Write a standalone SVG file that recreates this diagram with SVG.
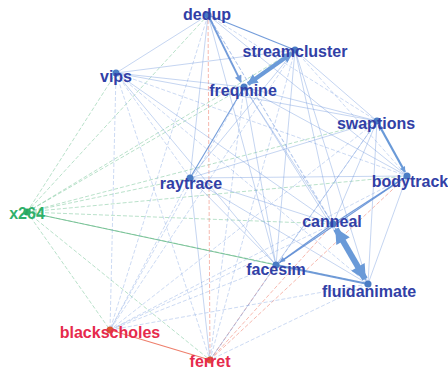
<svg xmlns="http://www.w3.org/2000/svg" width="448" height="370" viewBox="0 0 448 370">
<defs>
<style>
.e{fill:none;stroke:#6f96dc;stroke-width:0.8;opacity:0.5}
.d{fill:none;stroke:#7fa2e2;stroke-width:0.8;stroke-dasharray:4 2;opacity:0.5}
.m{fill:none;stroke:#5b8bd4;stroke-width:1.6;opacity:0.85}
.g{fill:none;stroke:#6cc090;stroke-width:0.8;stroke-dasharray:4 2;opacity:0.6}
.gs{fill:none;stroke:#55b07a;stroke-width:1;opacity:0.75}
.r{fill:none;stroke:#f08a78;stroke-width:0.8;stroke-dasharray:4 2;opacity:0.75}
.rs{fill:none;stroke:#ee7f6c;stroke-width:1.1}
.t{fill:none;stroke:#6a9ad8}
.lb{font-family:"Liberation Sans",Arial,sans-serif;font-weight:bold;font-size:16px;text-anchor:middle;fill:#3140a6}
.lg{fill:#2fb06a}
.lr{fill:#e62a4c}
.nb{fill:#4a7cc4}
.ng{fill:#2aa45e}
.nr{fill:#d9562e}
</style>
<marker id="ah" viewBox="0 0 10 10" refX="9" refY="5" markerWidth="3.2" markerHeight="2.6" orient="auto-start-reverse" markerUnits="strokeWidth">
<path d="M0,0 L10,5 L0,10 z" fill="#6a9ad8"/>
</marker>
<marker id="am" viewBox="0 0 10 10" refX="9" refY="5" markerWidth="5" markerHeight="4" orient="auto-start-reverse" markerUnits="strokeWidth">
<path d="M0,0 L10,5 L0,10 z" fill="#5b8bd4"/>
</marker>
</defs>
<rect width="448" height="370" fill="#ffffff"/>
<g id="connectors">
<line class="g" x1="27" y1="212" x2="208" y2="15"/>
<line class="g" x1="27" y1="212" x2="116" y2="73"/>
<line class="g" x1="27" y1="212" x2="295" y2="50"/>
<line class="g" x1="27" y1="212" x2="244" y2="87"/>
<line class="g" x1="27" y1="212" x2="377" y2="121"/>
<line class="g" x1="27" y1="212" x2="407" y2="176"/>
<line class="g" x1="27" y1="212" x2="190" y2="178"/>
<line class="g" x1="27" y1="212" x2="333" y2="224"/>
<line class="gs" x1="27" y1="212" x2="276" y2="265"/>
<line class="g" x1="27" y1="212" x2="368" y2="284"/>
<line class="g" x1="27" y1="212" x2="110" y2="330"/>
<line class="g" x1="27" y1="212" x2="210" y2="360"/>
<line class="r" x1="210" y1="360" x2="208" y2="15"/>
<line class="r" x1="210" y1="360" x2="276" y2="265"/>
<line class="r" x1="210" y1="360" x2="333" y2="224"/>
<line class="r" x1="210" y1="360" x2="407" y2="176"/>
<line class="rs" x1="110" y1="330" x2="210" y2="360"/>
<line class="e" x1="208" y1="15" x2="116" y2="73"/>
<line class="d" x1="208" y1="15" x2="377" y2="121"/>
<line class="e" x1="208" y1="15" x2="407" y2="176"/>
<line class="e" x1="208" y1="15" x2="190" y2="178"/>
<line class="d" x1="208" y1="15" x2="333" y2="224"/>
<line class="e" x1="208" y1="15" x2="276" y2="265"/>
<line class="d" x1="208" y1="15" x2="368" y2="284"/>
<line class="d" x1="208" y1="15" x2="110" y2="330"/>
<line class="e" x1="116" y1="73" x2="295" y2="50"/>
<line class="e" x1="116" y1="73" x2="244" y2="87"/>
<line class="e" x1="116" y1="73" x2="377" y2="121"/>
<line class="d" x1="116" y1="73" x2="407" y2="176"/>
<line class="d" x1="116" y1="73" x2="190" y2="178"/>
<line class="e" x1="116" y1="73" x2="333" y2="224"/>
<line class="e" x1="116" y1="73" x2="276" y2="265"/>
<line class="d" x1="116" y1="73" x2="368" y2="284"/>
<line class="d" x1="116" y1="73" x2="110" y2="330"/>
<line class="d" x1="116" y1="73" x2="210" y2="360"/>
<line class="e" x1="295" y1="50" x2="377" y2="121"/>
<line class="d" x1="295" y1="50" x2="407" y2="176"/>
<line class="e" x1="295" y1="50" x2="190" y2="178"/>
<line class="e" x1="295" y1="50" x2="333" y2="224"/>
<line class="e" x1="295" y1="50" x2="276" y2="265"/>
<line class="e" x1="295" y1="50" x2="368" y2="284"/>
<line class="d" x1="295" y1="50" x2="110" y2="330"/>
<line class="d" x1="295" y1="50" x2="210" y2="360"/>
<line class="e" x1="244" y1="87" x2="377" y2="121"/>
<line class="e" x1="244" y1="87" x2="407" y2="176"/>
<line class="e" x1="244" y1="87" x2="333" y2="224"/>
<line class="e" x1="244" y1="87" x2="276" y2="265"/>
<line class="e" x1="244" y1="87" x2="368" y2="284"/>
<line class="d" x1="244" y1="87" x2="110" y2="330"/>
<line class="d" x1="244" y1="87" x2="210" y2="360"/>
<line class="e" x1="377" y1="121" x2="190" y2="178"/>
<line class="e" x1="377" y1="121" x2="333" y2="224"/>
<line class="e" x1="377" y1="121" x2="276" y2="265"/>
<line class="e" x1="377" y1="121" x2="368" y2="284"/>
<line class="d" x1="377" y1="121" x2="110" y2="330"/>
<line class="d" x1="377" y1="121" x2="210" y2="360"/>
<line class="e" x1="407" y1="176" x2="190" y2="178"/>
<line class="e" x1="407" y1="176" x2="368" y2="284"/>
<line class="d" x1="407" y1="176" x2="110" y2="330"/>
<line class="e" x1="190" y1="178" x2="333" y2="224"/>
<line class="e" x1="190" y1="178" x2="276" y2="265"/>
<line class="e" x1="190" y1="178" x2="368" y2="284"/>
<line class="d" x1="190" y1="178" x2="110" y2="330"/>
<line class="e" x1="190" y1="178" x2="210" y2="360"/>
<line class="d" x1="333" y1="224" x2="110" y2="330"/>
<line class="d" x1="276" y1="265" x2="110" y2="330"/>
<line class="d" x1="276" y1="265" x2="210" y2="360"/>
<line class="d" x1="368" y1="284" x2="110" y2="330"/>
<line class="d" x1="368" y1="284" x2="210" y2="360"/>
<line class="m" x1="208" y1="15" x2="295" y2="50" style="stroke-width:1.2"/>
<line class="m" x1="244" y1="87" x2="190" y2="178" style="stroke-width:1.1"/>
<line class="m" x1="407" y1="176" x2="333" y2="224" style="stroke-width:1.3"/>
<line class="m" x1="407" y1="176" x2="276" y2="265" style="stroke-width:1.1"/>
<line class="m" x1="276" y1="265" x2="368" y2="284" style="stroke-width:2"/>
<line class="m" x1="208" y1="15" x2="241" y2="82" style="stroke-width:1.8" marker-end="url(#am)"/>
<line class="m" x1="333" y1="224" x2="280" y2="262" style="stroke-width:1.4" marker-end="url(#am)"/>
<line class="t" x1="292" y1="53" x2="248" y2="84" style="stroke-width:4" marker-start="url(#ah)" marker-end="url(#ah)"/>
<line class="t" x1="336" y1="229" x2="365" y2="279" style="stroke-width:6" marker-start="url(#ah)" marker-end="url(#ah)"/>
<line class="t" x1="379" y1="125" x2="405" y2="172" style="stroke-width:2.2" marker-start="url(#ah)" marker-end="url(#ah)"/>
</g>
<g id="node-dedup"><circle class="nb" cx="208" cy="15" r="3.5"/><text class="lb" x="207" y="20">dedup</text></g>
<g id="node-streamcluster"><circle class="nb" cx="295" cy="50" r="3.5"/><text class="lb" x="295" y="57">streamcluster</text></g>
<g id="node-freqmine"><circle class="nb" cx="244" cy="87" r="3.5"/><text class="lb" x="243" y="96">freqmine</text></g>
<g id="node-vips"><circle class="nb" cx="116" cy="73" r="3.5"/><text class="lb" x="116" y="82">vips</text></g>
<g id="node-swaptions"><circle class="nb" cx="377" cy="121" r="3.5"/><text class="lb" x="376" y="129">swaptions</text></g>
<g id="node-bodytrack"><circle class="nb" cx="407" cy="176" r="3.5"/><text class="lb" x="410" y="187">bodytrack</text></g>
<g id="node-raytrace"><circle class="nb" cx="190" cy="178" r="3.5"/><text class="lb" x="191" y="189">raytrace</text></g>
<g id="node-x264"><circle class="ng" cx="27" cy="212" r="3.5"/><text class="lb lg" x="27" y="219">x264</text></g>
<g id="node-canneal"><circle class="nb" cx="333" cy="224" r="3.5"/><text class="lb" x="332" y="227">canneal</text></g>
<g id="node-facesim"><circle class="nb" cx="276" cy="265" r="3.5"/><text class="lb" x="276" y="275">facesim</text></g>
<g id="node-fluidanimate"><circle class="nb" cx="368" cy="284" r="3.5"/><text class="lb" x="369" y="297">fluidanimate</text></g>
<g id="node-blackscholes"><circle class="nr" cx="110" cy="330" r="3.5"/><text class="lb lr" x="110" y="338">blackscholes</text></g>
<g id="node-ferret"><circle class="nr" cx="210" cy="360" r="3.5"/><text class="lb lr" x="210" y="367">ferret</text></g>
</svg>
